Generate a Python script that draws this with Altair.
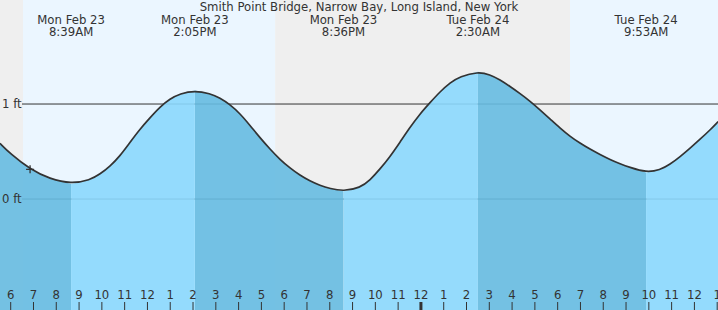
import altair as alt
import pandas as pd

TITLE = "Smith Point Bridge, Narrow Bay, Long Island, New York"

# Tide curve (hours since Mon 00:00, height in ft)
tide_hours = [5.53, 5.97, 6.85, 7.72, 8.65, 9.48, 9.92, 10.36, 10.80, 11.23,
              11.67, 12.11, 12.55, 12.99, 13.43, 14.08, 14.75, 15.18, 15.62, 16.06,
              16.50, 16.94, 17.38, 17.82, 18.26, 18.69, 19.13, 19.57, 20.01, 20.60,
              21.33, 21.77, 22.20, 22.64, 23.08, 23.52, 23.96, 24.40, 24.84, 25.28,
              25.71, 26.50, 27.03, 27.47, 27.91, 28.35, 28.79, 29.22, 29.66, 30.10,
              30.54, 30.98, 31.42, 31.86, 32.30, 32.74, 33.17, 33.88, 34.49, 34.93,
              35.37, 35.81, 36.25, 36.68, 37.04]
tide_ft = [0.586, 0.480, 0.313, 0.212, 0.160, 0.200, 0.262, 0.345, 0.455, 0.595,
           0.735, 0.855, 0.970, 1.055, 1.110, 1.142, 1.110, 1.065, 0.995, 0.900,
           0.775, 0.645, 0.525, 0.415, 0.325, 0.250, 0.190, 0.143, 0.110, 0.082,
           0.118, 0.200, 0.315, 0.445, 0.598, 0.755, 0.897, 1.015, 1.130, 1.225,
           1.290, 1.340, 1.310, 1.255, 1.185, 1.110, 1.030, 0.940, 0.845, 0.748,
           0.660, 0.588, 0.525, 0.468, 0.415, 0.370, 0.333, 0.280, 0.305, 0.365,
           0.445, 0.535, 0.630, 0.725, 0.815]

# High / low tides
extreme_hours = [8.65, 14.08, 20.60, 26.50, 33.88]
extreme_days = ["Mon Feb 23", "Mon Feb 23", "Mon Feb 23", "Tue Feb 24", "Tue Feb 24"]
extreme_times = ["8:39AM", "2:05PM", "8:36PM", "2:30AM", "9:53AM"]

# Day / night bands
band_start = [5.53, 6.54, 17.60, 30.54]
band_end = [6.54, 17.60, 30.54, 37.04]
band_kind = ["night", "day", "night", "day"]

# Hour ticks
tick_hours = [6, 7, 8, 9, 10, 11, 12, 13, 14, 15, 16, 17, 18, 19, 20, 21, 22, 23,
              24, 25, 26, 27, 28, 29, 30, 31, 32, 33, 34, 35, 36, 37]
tick_labels = ["6", "7", "8", "9", "10", "11", "12", "1", "2", "3", "4", "5", "6",
               "7", "8", "9", "10", "11", "12", "1", "2", "3", "4", "5", "6", "7",
               "8", "9", "10", "11", "12", "1"]
midnight_hours = [24]

# Current time marker
now_hour = [6.85]
now_ft = [0.313]

# ---- tables ----
X0, X1 = 5.5305, 37.035
Y0, Y1 = -1.168, 2.095
W, H = 718, 310
FONT = "DejaVu Sans"
FS = 11.7
TXT = "#333333"
INTERP = "basis"

xs = alt.Scale(domain=[X0, X1], nice=False, zero=False)
ys = alt.Scale(domain=[Y0, Y1], nice=False, zero=False)

curve = pd.DataFrame({"t": tide_hours, "h": tide_ft})

bounds = [tide_hours[0]] + extreme_hours + [tide_hours[-1]]
rows = []
for i in range(len(bounds) - 1):
    phase = "falling" if i % 2 == 0 else "rising"
    for t, h in zip(tide_hours, tide_ft):
        if bounds[i] <= t <= bounds[i + 1]:
            rows.append({"t": t, "h": h, "base": Y0, "seg": i, "phase": phase})
segs = pd.DataFrame(rows)

bands = pd.DataFrame({"a": band_start, "b": band_end, "kind": band_kind})
ext = pd.DataFrame({"t": extreme_hours, "day": extreme_days, "time": extreme_times})
ticks = pd.DataFrame({"t": tick_hours, "label": tick_labels,
                      "w": [3 if t in midnight_hours else 1 for t in tick_hours]})
now = pd.DataFrame({"t": now_hour, "h": now_ft})


def band_layer(kind, colour):
    return alt.Chart(bands).transform_filter(alt.datum.kind == kind).mark_rect(
        color=colour).encode(
        x=alt.X("a:Q", scale=xs, axis=None),
        x2="b:Q",
        y=alt.value(0), y2=alt.value(H),
    )


def fill_layer(phase, colour):
    return alt.Chart(segs).transform_filter(alt.datum.phase == phase).mark_area(
        interpolate=INTERP, color=colour, opacity=0.9).encode(
        x=alt.X("t:Q", scale=xs, axis=None),
        y=alt.Y("h:Q", scale=ys, axis=None, stack=None),
        y2="base:Q",
        detail="seg:N",
    )


bg_night = band_layer("night", "#efefef")
bg_day = band_layer("day", "#ebf6ff")

grid = alt.Chart(pd.DataFrame({"v": [0, 1]})).mark_rule(color="#333333", strokeWidth=1).encode(
    y=alt.Y("v:Q", scale=ys, axis=None),
    x=alt.value(22), x2=alt.value(W),
)

fill_fall = fill_layer("falling", "#66bbe1")
fill_rise = fill_layer("rising", "#8bd8fd")

line = alt.Chart(curve).mark_line(interpolate=INTERP, color="#333333", strokeWidth=1.7).encode(
    x=alt.X("t:Q", scale=xs, axis=None),
    y=alt.Y("h:Q", scale=ys, axis=None),
)

marker = alt.Chart(now).mark_point(shape="M-1,0L1,0M0,-1L0,1", filled=False,
                                   stroke="#333333", strokeWidth=1.3, size=64, opacity=1).encode(
    x=alt.X("t:Q", scale=xs, axis=None),
    y=alt.Y("h:Q", scale=ys, axis=None),
)

ylabels = alt.Chart(pd.DataFrame({"v": [0, 1], "label": ["0 ft", "1 ft"]})).mark_text(
    font=FONT, fontSize=FS, color=TXT, align="left", baseline="middle"
).encode(
    x=alt.value(2),
    y=alt.Y("v:Q", scale=ys, axis=None),
    text="label:N",
)

title = alt.Chart(pd.DataFrame({"label": [TITLE]})).mark_text(
    font=FONT, fontSize=FS, color=TXT, align="center", baseline="alphabetic"
).encode(x=alt.value(359), y=alt.value(11), text="label:N")

daylabels = alt.Chart(ext).mark_text(
    font=FONT, fontSize=FS, color=TXT, align="center", baseline="alphabetic"
).encode(
    x=alt.X("t:Q", scale=xs, axis=None),
    y=alt.value(24),
    text="day:N",
)

timelabels = alt.Chart(ext).mark_text(
    font=FONT, fontSize=FS, color=TXT, align="center", baseline="alphabetic"
).encode(
    x=alt.X("t:Q", scale=xs, axis=None),
    y=alt.value(36),
    text="time:N",
)

tickmarks = alt.Chart(ticks).mark_rule(color="#333333").encode(
    x=alt.X("t:Q", scale=xs, axis=None),
    y=alt.value(302), y2=alt.value(H),
    strokeWidth=alt.StrokeWidth("w:Q", scale=None, legend=None),
)

ticklabels = alt.Chart(ticks).mark_text(
    font=FONT, fontSize=FS, color=TXT, align="center", baseline="alphabetic"
).encode(
    x=alt.X("t:Q", scale=xs, axis=None),
    y=alt.value(299),
    text="label:N",
)

chart = alt.layer(
    bg_night, bg_day, grid, fill_fall, fill_rise, line, marker, ylabels, title,
    daylabels, timelabels, tickmarks, ticklabels
).properties(
    width=W, height=H, padding=0, autosize="none"
).configure_view(stroke=None)

chart.save("out.html", embed_options={"renderer": "svg", "actions": False})
